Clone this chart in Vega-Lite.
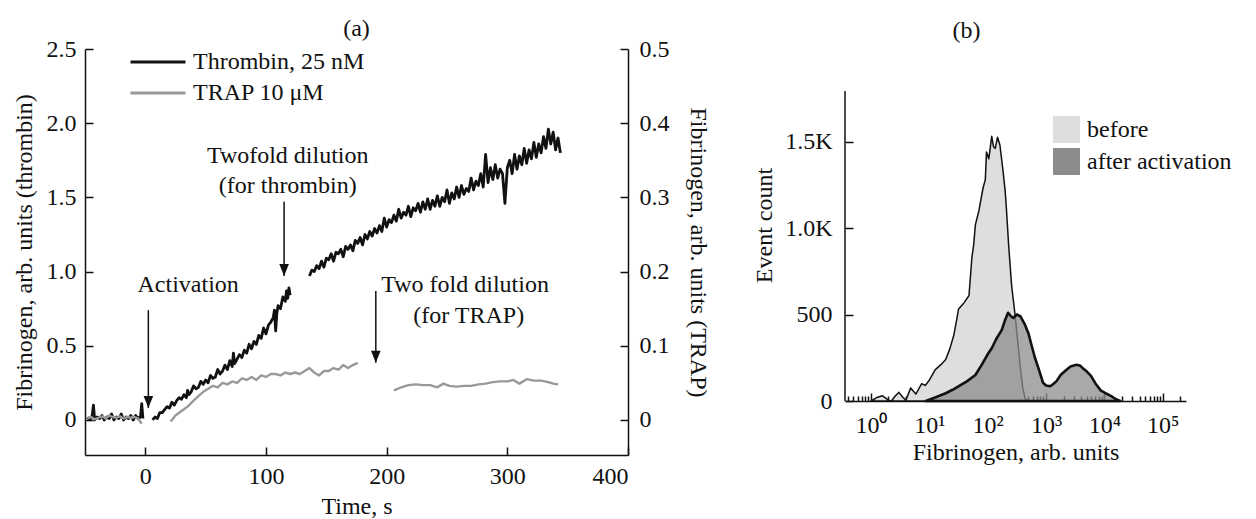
{
  "$schema": "https://vega.github.io/schema/vega-lite/v6.json",
  "background": "white",
  "padding": {"left": 12, "top": 17, "right": 0, "bottom": 0},
  "config": {
    "font": "Liberation Serif",
    "view": {"stroke": null},
    "axis": {"labelFont": "Liberation Serif", "titleFont": "Liberation Serif", "labelFontSize": 24, "titleFontSize": 24, "titleFontWeight": "normal", "labelColor": "#111", "titleColor": "#111", "domainColor": "#111", "tickColor": "#111", "domainWidth": 1.5, "tickWidth": 1.5, "grid": false, "tickSize": -8},
    "title": {"font": "Liberation Serif", "fontSize": 24, "fontWeight": "normal", "color": "#111"},
    "legend": {"labelFont": "Liberation Serif", "labelFontSize": 24, "labelColor": "#111", "labelLimit": 400}
  },
  "datasets": {
    "thrombin": [
      {"t":-48,"v":0.02,"seg":"p"},{"t":-46,"v":0.0,"seg":"p"},{"t":-44,"v":0.03,"seg":"p"},{"t":-43,"v":0.10,"seg":"p"},{"t":-42,"v":0.0,"seg":"p"},{"t":-40,"v":0.02,"seg":"p"},{"t":-38,"v":0.01,"seg":"p"},{"t":-36,"v":0.03,"seg":"p"},{"t":-34,"v":0.0,"seg":"p"},{"t":-32,"v":0.02,"seg":"p"},{"t":-30,"v":0.01,"seg":"p"},{"t":-28,"v":0.04,"seg":"p"},{"t":-26,"v":0.0,"seg":"p"},{"t":-24,"v":0.02,"seg":"p"},{"t":-22,"v":0.01,"seg":"p"},{"t":-20,"v":0.04,"seg":"p"},{"t":-18,"v":0.0,"seg":"p"},{"t":-16,"v":0.02,"seg":"p"},{"t":-14,"v":0.01,"seg":"p"},{"t":-12,"v":0.03,"seg":"p"},{"t":-10,"v":0.0,"seg":"p"},{"t":-8,"v":0.03,"seg":"p"},{"t":-6,"v":0.01,"seg":"p"},{"t":-4,"v":0.02,"seg":"p"},{"t":-3,"v":0.11,"seg":"p"},{"t":-2,"v":0.01,"seg":"p"},
      {"t":6,"v":0.00,"seg":"a"},{"t":8,"v":0.02,"seg":"a"},{"t":10,"v":0.01,"seg":"a"},{"t":12,"v":0.05,"seg":"a"},{"t":14,"v":0.05,"seg":"a"},{"t":16,"v":0.07,"seg":"a"},{"t":18,"v":0.09,"seg":"a"},{"t":20,"v":0.08,"seg":"a"},{"t":22,"v":0.12,"seg":"a"},{"t":24,"v":0.10,"seg":"a"},{"t":26,"v":0.13,"seg":"a"},{"t":28,"v":0.15,"seg":"a"},{"t":30,"v":0.14,"seg":"a"},{"t":32,"v":0.17,"seg":"a"},{"t":34,"v":0.15,"seg":"a"},{"t":35,"v":0.20,"seg":"a"},{"t":36,"v":0.17,"seg":"a"},{"t":38,"v":0.19,"seg":"a"},{"t":40,"v":0.23,"seg":"a"},{"t":42,"v":0.21,"seg":"a"},{"t":44,"v":0.22,"seg":"a"},{"t":46,"v":0.26,"seg":"a"},{"t":48,"v":0.24,"seg":"a"},{"t":50,"v":0.27,"seg":"a"},{"t":52,"v":0.25,"seg":"a"},{"t":54,"v":0.30,"seg":"a"},{"t":56,"v":0.28,"seg":"a"},{"t":58,"v":0.29,"seg":"a"},{"t":60,"v":0.34,"seg":"a"},{"t":62,"v":0.31,"seg":"a"},{"t":64,"v":0.33,"seg":"a"},{"t":66,"v":0.37,"seg":"a"},{"t":68,"v":0.34,"seg":"a"},{"t":70,"v":0.40,"seg":"a"},{"t":72,"v":0.36,"seg":"a"},{"t":73,"v":0.45,"seg":"a"},{"t":74,"v":0.38,"seg":"a"},{"t":76,"v":0.41,"seg":"a"},{"t":78,"v":0.44,"seg":"a"},{"t":80,"v":0.42,"seg":"a"},{"t":82,"v":0.47,"seg":"a"},{"t":84,"v":0.45,"seg":"a"},{"t":86,"v":0.51,"seg":"a"},{"t":88,"v":0.48,"seg":"a"},{"t":90,"v":0.53,"seg":"a"},{"t":92,"v":0.51,"seg":"a"},{"t":94,"v":0.57,"seg":"a"},{"t":96,"v":0.55,"seg":"a"},{"t":98,"v":0.62,"seg":"a"},{"t":100,"v":0.58,"seg":"a"},{"t":102,"v":0.64,"seg":"a"},{"t":104,"v":0.66,"seg":"a"},{"t":106,"v":0.69,"seg":"a"},{"t":107,"v":0.74,"seg":"a"},{"t":108,"v":0.60,"seg":"a"},{"t":109,"v":0.72,"seg":"a"},{"t":110,"v":0.77,"seg":"a"},{"t":112,"v":0.75,"seg":"a"},{"t":114,"v":0.83,"seg":"a"},{"t":116,"v":0.80,"seg":"a"},{"t":117,"v":0.87,"seg":"a"},{"t":118,"v":0.82,"seg":"a"},{"t":119,"v":0.89,"seg":"a"},{"t":120,"v":0.84,"seg":"a"},
      {"t":136,"v":0.97,"seg":"b"},{"t":138,"v":1.01,"seg":"b"},{"t":140,"v":1.00,"seg":"b"},{"t":142,"v":1.04,"seg":"b"},{"t":144,"v":1.02,"seg":"b"},{"t":146,"v":1.07,"seg":"b"},{"t":148,"v":1.03,"seg":"b"},{"t":150,"v":1.09,"seg":"b"},{"t":152,"v":1.08,"seg":"b"},{"t":154,"v":1.12,"seg":"b"},{"t":156,"v":1.07,"seg":"b"},{"t":158,"v":1.13,"seg":"b"},{"t":160,"v":1.12,"seg":"b"},{"t":162,"v":1.15,"seg":"b"},{"t":164,"v":1.10,"seg":"b"},{"t":166,"v":1.17,"seg":"b"},{"t":168,"v":1.15,"seg":"b"},{"t":170,"v":1.18,"seg":"b"},{"t":172,"v":1.14,"seg":"b"},{"t":174,"v":1.21,"seg":"b"},{"t":176,"v":1.19,"seg":"b"},{"t":178,"v":1.23,"seg":"b"},{"t":180,"v":1.18,"seg":"b"},{"t":182,"v":1.25,"seg":"b"},{"t":184,"v":1.22,"seg":"b"},{"t":186,"v":1.27,"seg":"b"},{"t":188,"v":1.24,"seg":"b"},{"t":190,"v":1.29,"seg":"b"},{"t":192,"v":1.26,"seg":"b"},{"t":194,"v":1.31,"seg":"b"},{"t":196,"v":1.27,"seg":"b"},{"t":198,"v":1.36,"seg":"b"},{"t":200,"v":1.30,"seg":"b"},{"t":202,"v":1.35,"seg":"b"},{"t":204,"v":1.33,"seg":"b"},{"t":206,"v":1.38,"seg":"b"},{"t":208,"v":1.34,"seg":"b"},{"t":210,"v":1.42,"seg":"b"},{"t":212,"v":1.36,"seg":"b"},{"t":214,"v":1.40,"seg":"b"},{"t":216,"v":1.38,"seg":"b"},{"t":218,"v":1.44,"seg":"b"},{"t":220,"v":1.37,"seg":"b"},{"t":222,"v":1.43,"seg":"b"},{"t":224,"v":1.41,"seg":"b"},{"t":226,"v":1.46,"seg":"b"},{"t":228,"v":1.40,"seg":"b"},{"t":230,"v":1.47,"seg":"b"},{"t":232,"v":1.42,"seg":"b"},{"t":234,"v":1.49,"seg":"b"},{"t":236,"v":1.42,"seg":"b"},{"t":238,"v":1.48,"seg":"b"},{"t":240,"v":1.44,"seg":"b"},{"t":242,"v":1.51,"seg":"b"},{"t":244,"v":1.44,"seg":"b"},{"t":246,"v":1.50,"seg":"b"},{"t":248,"v":1.47,"seg":"b"},{"t":250,"v":1.55,"seg":"b"},{"t":252,"v":1.46,"seg":"b"},{"t":254,"v":1.53,"seg":"b"},{"t":256,"v":1.49,"seg":"b"},{"t":258,"v":1.57,"seg":"b"},{"t":260,"v":1.50,"seg":"b"},{"t":262,"v":1.58,"seg":"b"},{"t":264,"v":1.52,"seg":"b"},{"t":266,"v":1.56,"seg":"b"},{"t":268,"v":1.54,"seg":"b"},{"t":270,"v":1.63,"seg":"b"},{"t":272,"v":1.55,"seg":"b"},{"t":274,"v":1.61,"seg":"b"},{"t":276,"v":1.58,"seg":"b"},{"t":278,"v":1.66,"seg":"b"},{"t":280,"v":1.57,"seg":"b"},{"t":282,"v":1.79,"seg":"b"},{"t":284,"v":1.60,"seg":"b"},{"t":286,"v":1.70,"seg":"b"},{"t":288,"v":1.62,"seg":"b"},{"t":290,"v":1.72,"seg":"b"},{"t":292,"v":1.63,"seg":"b"},{"t":294,"v":1.69,"seg":"b"},{"t":296,"v":1.66,"seg":"b"},{"t":298,"v":1.46,"seg":"b"},{"t":300,"v":1.70,"seg":"b"},{"t":302,"v":1.75,"seg":"b"},{"t":304,"v":1.66,"seg":"b"},{"t":306,"v":1.79,"seg":"b"},{"t":308,"v":1.69,"seg":"b"},{"t":310,"v":1.78,"seg":"b"},{"t":312,"v":1.72,"seg":"b"},{"t":314,"v":1.83,"seg":"b"},{"t":316,"v":1.73,"seg":"b"},{"t":318,"v":1.82,"seg":"b"},{"t":320,"v":1.76,"seg":"b"},{"t":322,"v":1.87,"seg":"b"},{"t":324,"v":1.77,"seg":"b"},{"t":326,"v":1.86,"seg":"b"},{"t":328,"v":1.80,"seg":"b"},{"t":330,"v":1.91,"seg":"b"},{"t":332,"v":1.83,"seg":"b"},{"t":334,"v":1.96,"seg":"b"},{"t":336,"v":1.86,"seg":"b"},{"t":338,"v":1.94,"seg":"b"},{"t":340,"v":1.82,"seg":"b"},{"t":342,"v":1.90,"seg":"b"},{"t":344,"v":1.80,"seg":"b"}
    ],
    "trap": [
      {"t":-48,"v":0.002,"seg":"p"},{"t":-45,"v":0.004,"seg":"p"},{"t":-42,"v":0.001,"seg":"p"},{"t":-39,"v":0.003,"seg":"p"},{"t":-36,"v":0.005,"seg":"p"},{"t":-33,"v":0.002,"seg":"p"},{"t":-30,"v":0.006,"seg":"p"},{"t":-27,"v":0.004,"seg":"p"},{"t":-24,"v":0.003,"seg":"p"},{"t":-21,"v":0.005,"seg":"p"},{"t":-18,"v":0.002,"seg":"p"},{"t":-15,"v":0.004,"seg":"p"},{"t":-12,"v":0.003,"seg":"p"},{"t":-9,"v":0.004,"seg":"p"},{"t":-6,"v":0.002,"seg":"p"},{"t":-3,"v":-0.005,"seg":"p"},
      {"t":21,"v":-0.002,"seg":"a"},{"t":25,"v":0.006,"seg":"a"},{"t":30,"v":0.012,"seg":"a"},{"t":35,"v":0.018,"seg":"a"},{"t":40,"v":0.026,"seg":"a"},{"t":44,"v":0.032,"seg":"a"},{"t":48,"v":0.038,"seg":"a"},{"t":52,"v":0.042,"seg":"a"},{"t":56,"v":0.046,"seg":"a"},{"t":60,"v":0.044,"seg":"a"},{"t":64,"v":0.050,"seg":"a"},{"t":68,"v":0.048,"seg":"a"},{"t":72,"v":0.052,"seg":"a"},{"t":76,"v":0.050,"seg":"a"},{"t":80,"v":0.056,"seg":"a"},{"t":84,"v":0.054,"seg":"a"},{"t":88,"v":0.058,"seg":"a"},{"t":92,"v":0.054,"seg":"a"},{"t":96,"v":0.060,"seg":"a"},{"t":100,"v":0.058,"seg":"a"},{"t":104,"v":0.062,"seg":"a"},{"t":108,"v":0.062,"seg":"a"},{"t":112,"v":0.060,"seg":"a"},{"t":116,"v":0.064,"seg":"a"},{"t":120,"v":0.062,"seg":"a"},{"t":124,"v":0.064,"seg":"a"},{"t":128,"v":0.062,"seg":"a"},{"t":132,"v":0.066,"seg":"a"},{"t":136,"v":0.070,"seg":"a"},{"t":140,"v":0.064,"seg":"a"},{"t":144,"v":0.060,"seg":"a"},{"t":148,"v":0.066,"seg":"a"},{"t":152,"v":0.066,"seg":"a"},{"t":156,"v":0.070,"seg":"a"},{"t":160,"v":0.068,"seg":"a"},{"t":164,"v":0.074,"seg":"a"},{"t":168,"v":0.070,"seg":"a"},{"t":172,"v":0.074,"seg":"a"},{"t":176,"v":0.077,"seg":"a"},
      {"t":206,"v":0.040,"seg":"b"},{"t":212,"v":0.044,"seg":"b"},{"t":218,"v":0.047,"seg":"b"},{"t":224,"v":0.048,"seg":"b"},{"t":230,"v":0.047,"seg":"b"},{"t":236,"v":0.047,"seg":"b"},{"t":242,"v":0.044,"seg":"b"},{"t":247,"v":0.049,"seg":"b"},{"t":252,"v":0.046,"seg":"b"},{"t":258,"v":0.045,"seg":"b"},{"t":264,"v":0.046,"seg":"b"},{"t":270,"v":0.046,"seg":"b"},{"t":276,"v":0.048,"seg":"b"},{"t":282,"v":0.049,"seg":"b"},{"t":288,"v":0.051,"seg":"b"},{"t":294,"v":0.052,"seg":"b"},{"t":300,"v":0.052,"seg":"b"},{"t":305,"v":0.054,"seg":"b"},{"t":310,"v":0.049,"seg":"b"},{"t":316,"v":0.055,"seg":"b"},{"t":322,"v":0.053,"seg":"b"},{"t":328,"v":0.053,"seg":"b"},{"t":334,"v":0.051,"seg":"b"},{"t":338,"v":0.049,"seg":"b"},{"t":342,"v":0.048,"seg":"b"}
    ],
    "notes": [
      {"t":35.5,"v":0.91,"label":"Activation"},
      {"t":118,"v":1.78,"label":"Twofold dilution"},
      {"t":118,"v":1.58,"label":"(for thrombin)"},
      {"t":265,"v":0.91,"label":"Two fold dilution"},
      {"t":268,"v":0.70,"label":"(for TRAP)"}
    ],
    "arrows": [
      {"t":2.5,"v":0.74,"v2":0.08},
      {"t":115,"v":1.47,"v2":0.97},
      {"t":191,"v":0.87,"v2":0.385}
    ],
    "countaxis": [
      {"x":0.36,"c0":0,"c1":1792}
    ],
    "hist": [
      {"x":1.0,"count":0,"group":"before"},{"x":1.26,"count":20,"group":"before"},{"x":1.58,"count":30,"group":"before"},{"x":2.0,"count":5,"group":"before"},{"x":2.24,"count":0,"group":"before"},{"x":2.63,"count":30,"group":"before"},{"x":3.02,"count":50,"group":"before"},{"x":3.55,"count":20,"group":"before"},{"x":3.98,"count":5,"group":"before"},{"x":4.79,"count":75,"group":"before"},{"x":5.89,"count":40,"group":"before"},{"x":7.41,"count":100,"group":"before"},{"x":8.51,"count":90,"group":"before"},{"x":10,"count":120,"group":"before"},{"x":12.6,"count":180,"group":"before"},{"x":15.8,"count":210,"group":"before"},{"x":19.1,"count":240,"group":"before"},{"x":22.4,"count":300,"group":"before"},{"x":26.3,"count":380,"group":"before"},{"x":29.5,"count":470,"group":"before"},{"x":31.6,"count":530,"group":"before"},{"x":39.8,"count":570,"group":"before"},{"x":47.9,"count":610,"group":"before"},{"x":53.7,"count":830,"group":"before"},{"x":57.5,"count":900,"group":"before"},{"x":61.7,"count":1020,"group":"before"},{"x":70.8,"count":1100,"group":"before"},{"x":83.2,"count":1230,"group":"before"},{"x":91.2,"count":1280,"group":"before"},{"x":95.5,"count":1440,"group":"before"},{"x":104.7,"count":1400,"group":"before"},{"x":117.5,"count":1530,"group":"before"},{"x":125.9,"count":1470,"group":"before"},{"x":134.9,"count":1460,"group":"before"},{"x":147.9,"count":1525,"group":"before"},{"x":162.2,"count":1480,"group":"before"},{"x":182,"count":1340,"group":"before"},{"x":199.5,"count":1215,"group":"before"},{"x":208.9,"count":1120,"group":"before"},{"x":229,"count":900,"group":"before"},{"x":257,"count":670,"group":"before"},{"x":295,"count":497,"group":"before"},{"x":331,"count":330,"group":"before"},{"x":363,"count":190,"group":"before"},{"x":398,"count":80,"group":"before"},{"x":437,"count":15,"group":"before"},{"x":479,"count":0,"group":"before"},
      {"x":8.7,"count":0,"group":"after activation"},{"x":12.6,"count":20,"group":"after activation"},{"x":19.1,"count":45,"group":"after activation"},{"x":25.1,"count":65,"group":"after activation"},{"x":31.6,"count":85,"group":"after activation"},{"x":44.7,"count":115,"group":"after activation"},{"x":61.7,"count":150,"group":"after activation"},{"x":79.4,"count":210,"group":"after activation"},{"x":100,"count":270,"group":"after activation"},{"x":117.5,"count":305,"group":"after activation"},{"x":141,"count":360,"group":"after activation"},{"x":174,"count":410,"group":"after activation"},{"x":200,"count":470,"group":"after activation"},{"x":224,"count":510,"group":"after activation"},{"x":251,"count":490,"group":"after activation"},{"x":275,"count":480,"group":"after activation"},{"x":316,"count":500,"group":"after activation"},{"x":363,"count":490,"group":"after activation"},{"x":437,"count":440,"group":"after activation"},{"x":501,"count":390,"group":"after activation"},{"x":562,"count":325,"group":"after activation"},{"x":646,"count":250,"group":"after activation"},{"x":741,"count":190,"group":"after activation"},{"x":891,"count":105,"group":"after activation"},{"x":1000,"count":90,"group":"after activation"},{"x":1175,"count":85,"group":"after activation"},{"x":1349,"count":100,"group":"after activation"},{"x":1514,"count":115,"group":"after activation"},{"x":1778,"count":150,"group":"after activation"},{"x":2138,"count":175,"group":"after activation"},{"x":2630,"count":200,"group":"after activation"},{"x":3311,"count":210,"group":"after activation"},{"x":3802,"count":205,"group":"after activation"},{"x":4266,"count":190,"group":"after activation"},{"x":5012,"count":170,"group":"after activation"},{"x":5888,"count":145,"group":"after activation"},{"x":7079,"count":100,"group":"after activation"},{"x":8710,"count":60,"group":"after activation"},{"x":10470,"count":45,"group":"after activation"},{"x":12880,"count":30,"group":"after activation"},{"x":15850,"count":10,"group":"after activation"},{"x":18620,"count":0,"group":"after activation"}
    ]
  },
  "resolve": {"scale": {"color": "independent", "fill": "independent"}},
  "spacing": 43,
  "hconcat": [
    {
      "title": {"text": "(a)", "offset": -4, "frame": "group"},
      "width": 543,
      "height": 406,
      "layer": [
        {
          "layer": [
            {
              "data": {"name": "thrombin"},
              "mark": {"type": "line", "strokeWidth": 2.8, "strokeJoin": "round"},
              "encoding": {
                "x": {"field": "t", "type": "quantitative", "scale": {"domain": [-50, 400], "nice": false, "zero": false}, "axis": {"values": [0, 100, 200, 300, 400], "title": "Time, s", "labelPadding": 17, "titlePadding": 6}},
                "y": {"field": "v", "type": "quantitative", "scale": {"domain": [-0.236, 2.5], "nice": false, "zero": false}, "axis": {"values": [0, 0.5, 1, 1.5, 2, 2.5], "labelExpr": "datum.value == 0 ? '0' : format(datum.value, '.1f')", "title": "Fibrinogen, arb. units (thrombin)", "labelPadding": 17, "titlePadding": 10}},
                "color": {"datum": "Thrombin, 25 nM", "scale": {"domain": ["Thrombin, 25 nM", "TRAP 10 μM"], "range": ["#111111", "#999999"]}, "legend": {"orient": "none", "legendX": 44, "legendY": 0, "title": null, "symbolType": "stroke", "symbolSize": 3025, "symbolStrokeWidth": 3, "labelOffset": 6, "clipHeight": 26, "rowPadding": 5, "labelLimit": 400}},
                "detail": {"field": "seg"}
              }
            },
            {
              "data": {"name": "arrows"},
              "mark": {"type": "rule", "strokeWidth": 1.5, "color": "#111"},
              "encoding": {
                "x": {"field": "t", "type": "quantitative"},
                "y": {"field": "v", "type": "quantitative"},
                "y2": {"field": "v2"}
              }
            },
            {
              "data": {"name": "arrows"},
              "mark": {"type": "point", "shape": "M0,0L-0.4,-1L0.4,-1Z", "size": 576, "filled": true, "color": "#111", "opacity": 1, "strokeWidth": 0},
              "encoding": {
                "x": {"field": "t", "type": "quantitative"},
                "y": {"field": "v2", "type": "quantitative"}
              }
            },
            {
              "data": {"name": "notes"},
              "mark": {"type": "text", "fontSize": 24, "font": "Liberation Serif", "color": "#111", "baseline": "middle", "align": "center"},
              "encoding": {
                "x": {"field": "t", "type": "quantitative"},
                "y": {"field": "v", "type": "quantitative"},
                "text": {"field": "label"}
              }
            }
          ]
        },
        {
          "data": {"name": "trap"},
          "mark": {"type": "line", "strokeWidth": 2.4, "strokeJoin": "round"},
          "encoding": {
            "x": {"field": "t", "type": "quantitative"},
            "y": {"field": "v", "type": "quantitative", "scale": {"domain": [-0.0472, 0.5], "nice": false, "zero": false}, "axis": {"orient": "right", "values": [0, 0.1, 0.2, 0.3, 0.4, 0.5], "labelExpr": "datum.value == 0 ? '0' : format(datum.value, '.1f')", "title": "Fibrinogen, arb. units (TRAP)", "labelPadding": 19, "titlePadding": 16}},
            "color": {"datum": "TRAP 10 μM"},
            "detail": {"field": "seg"}
          }
        }
      ],
      "resolve": {"scale": {"y": "independent"}}
    },
    {
      "title": {"text": "(b)", "offset": 6, "frame": "group", "dx": -49},
      "width": 341,
      "height": 352,
      "layer": [
        {
          "data": {"name": "hist"},
          "transform": [{"filter": "datum.group == 'before'"}],
          "mark": {"type": "area", "stroke": "#111", "strokeWidth": 1.5, "fillOpacity": 1, "strokeJoin": "round"},
          "encoding": {
            "x": {"field": "x", "type": "quantitative", "scale": {"type": "log", "domain": [0.36, 250000], "nice": false}, "axis": {"values": [0.4,0.5,0.6,0.7,0.8,0.9,1,2,3,4,5,6,7,8,9,10,20,30,40,50,60,70,80,90,100,200,300,400,500,600,700,800,900,1000,2000,3000,4000,5000,6000,7000,8000,9000,10000,20000,30000,40000,50000,60000,70000,80000,90000,100000,200000], "labelExpr": "datum.value == 1 ? '10⁰' : datum.value == 10 ? '10¹' : datum.value == 100 ? '10²' : datum.value == 1000 ? '10³' : datum.value == 10000 ? '10⁴' : datum.value == 100000 ? '10⁵' : ''", "tickSize": {"condition": {"test": "indexof([1,10,100,1000,10000,100000], datum.value) >= 0", "value": -8}, "value": -5}, "labelOverlap": false, "labelFlush": false, "labelPadding": 20, "titlePadding": 0, "title": "Fibrinogen, arb. units"}},
            "y": {"field": "count", "type": "quantitative", "scale": {"domain": [0, 2035], "nice": false}, "axis": {"values": [0, 500, 1000, 1500], "domain": false, "labelExpr": "datum.value >= 1000 ? format(datum.value / 1000, '.1f') + 'K' : format(datum.value, 'd')", "title": "Event count", "labelPadding": 21, "titlePadding": 8}},
            "fill": {"field": "group", "type": "nominal", "scale": {"domain": ["before", "after activation"], "range": ["#dedede", "#8c8c8c"]}, "legend": {"orient": "none", "legendX": 208, "legendY": 67, "title": null, "symbolType": "square", "symbolSize": 729, "symbolStrokeWidth": 0, "symbolOpacity": 1, "labelOffset": 7, "rowPadding": 5}}
          }
        },
        {
          "data": {"name": "hist"},
          "transform": [{"filter": "datum.group == 'after activation'"}],
          "mark": {"type": "area", "stroke": "#111", "strokeWidth": 2.6, "fillOpacity": 0.75, "strokeJoin": "round"},
          "encoding": {
            "x": {"field": "x", "type": "quantitative"},
            "y": {"field": "count", "type": "quantitative"},
            "fill": {"field": "group", "type": "nominal"}
          }
        },
        {
          "data": {"name": "countaxis"},
          "mark": {"type": "rule", "strokeWidth": 1.5, "color": "#111"},
          "encoding": {
            "x": {"field": "x", "type": "quantitative"},
            "y": {"field": "c0", "type": "quantitative"},
            "y2": {"field": "c1"}
          }
        }
      ]
    }
  ]
}
